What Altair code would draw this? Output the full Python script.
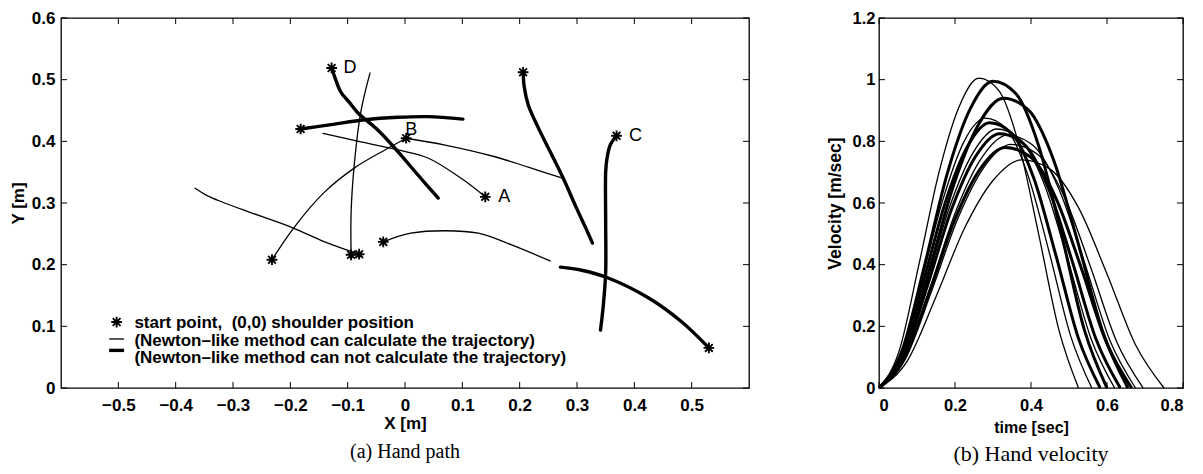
import altair as alt
import pandas as pd

SANS = "Liberation Sans"
SERIF = "Liberation Serif"

# ---------------- (a) Hand path : trajectories ----------------
# thick (Newton-like method can not calculate the trajectory)
d_x = [-0.128, -0.122, -0.112, -0.096, -0.082, -0.047, -0.012, 0.023, 0.058]
d_y = [0.519, 0.503, 0.480, 0.462, 0.446, 0.418, 0.383, 0.345, 0.308]
h_x = [-0.182, -0.129, -0.070, -0.012, 0.040, 0.101]
h_y = [0.420, 0.427, 0.435, 0.439, 0.440, 0.436]
s_x = [0.206, 0.208, 0.215, 0.233, 0.255, 0.276, 0.300, 0.315, 0.327]
s_y = [0.512, 0.488, 0.459, 0.421, 0.380, 0.340, 0.290, 0.260, 0.235]
c_x = [0.369, 0.358, 0.352, 0.350, 0.350, 0.350, 0.346, 0.341]
c_y = [0.409, 0.394, 0.370, 0.350, 0.269, 0.188, 0.135, 0.094]
r_x = [0.530, 0.483, 0.425, 0.350, 0.308, 0.271]
r_y = [0.065, 0.107, 0.146, 0.180, 0.191, 0.196]
# thin (Newton-like method can calculate the trajectory)
a_x = [0.140, 0.098, 0.040, -0.012, -0.077, -0.143]
a_y = [0.310, 0.340, 0.373, 0.386, 0.399, 0.413]
b_x = [0.002, 0.070, 0.157, 0.215, 0.276]
b_y = [0.405, 0.394, 0.375, 0.358, 0.340]
e_x = [-0.232, -0.193, -0.140, -0.088, -0.035, 0.002]
e_y = [0.208, 0.261, 0.318, 0.357, 0.386, 0.405]
f_x = [-0.094, -0.094, -0.088, -0.077, -0.061]
f_y = [0.216, 0.285, 0.367, 0.448, 0.511]
g_x = [-0.080, -0.140, -0.199, -0.274, -0.320, -0.345, -0.366]
g_y = [0.217, 0.237, 0.261, 0.286, 0.302, 0.312, 0.324]
k_x = [-0.038, 0.010, 0.070, 0.128, 0.186, 0.253]
k_y = [0.237, 0.251, 0.255, 0.251, 0.232, 0.206]

thick_paths = [(d_x, d_y), (h_x, h_y), (s_x, s_y), (c_x, c_y), (r_x, r_y)]
thin_paths = [(a_x, a_y), (b_x, b_y), (e_x, e_y), (f_x, f_y), (g_x, g_y), (k_x, k_y)]

# start points (asterisks)
star_x = [-0.128, -0.182, 0.206, 0.369, 0.530, 0.140, 0.002, -0.232, -0.094, -0.080, -0.038]
star_y = [0.519, 0.420, 0.512, 0.409, 0.065, 0.310, 0.405, 0.208, 0.216, 0.217, 0.237]

# point labels
lbl_text = ["D", "B", "A", "C"]
lbl_x = [-0.096, 0.011, 0.173, 0.402]
lbl_y = [0.519, 0.418, 0.310, 0.409]

# legend
legend_text = ["start point,\u00a0 (0,0) shoulder position",
               "(Newton\u2013like method can calculate the trajectory)",
               "(Newton\u2013like method can not calculate the trajectory)"]
legend_tx = [-0.472, -0.472, -0.472]
legend_ty = [0.106, 0.077, 0.048]
legend_star_x = [-0.503]
legend_star_y = [0.107]
legend_seg_x = [-0.516, -0.516]
legend_seg_x2 = [-0.490, -0.490]
legend_seg_y = [0.0795, 0.061]
legend_seg_w = [1.3, 3.4]

xticks_a = [-0.5, -0.4, -0.3, -0.2, -0.1, 0, 0.1, 0.2, 0.3, 0.4, 0.5]
yticks_a = [0, 0.1, 0.2, 0.3, 0.4, 0.5, 0.6]

# ---------------- (b) Hand velocity : curves ----------------
v_t1 = [0, .053, .105, .158, .21, .263, .315, .368, .42, .473, .525]
v_v1 = [0, .12, .40, .70, .91, 1.005, .965, .79, .50, .19, 0]
v_t2 = [0, .056, .112, .168, .224, .28, .336, .392, .448, .504, .56]
v_v2 = [0, .105, .35, .61, .80, .875, .84, .69, .44, .17, 0]
v_t3 = [0, .075, .15, .225, .30, .375, .45, .525, .60, .675, .75]
v_v3 = [0, .089, .296, .518, .673, .74, .71, .585, .37, .14, 0]
v_t4 = [0, .0695, .139, .2085, .278, .3475, .417, .4865, .556, .6255, .695]
v_v4 = [0, .095, .316, .553, .719, .79, .758, .624, .395, .15, 0]
v_t5 = [0, .0675, .135, .2025, .27, .3375, .405, .4725, .54, .6075, .675]
v_v5 = [0, .098, .328, .574, .746, .82, .787, .648, .41, .155, 0]
v_t6 = [0, .062, .124, .186, .248, .31, .372, .434, .496, .558, .62]
v_v6 = [0, .101, .336, .588, .764, .84, .806, .664, .42, .16, 0]
v_t7 = [0, .06, .12, .18, .24, .30, .36, .42, .48, .54, .60]
v_v7 = [0, .119, .398, .697, .905, .995, .955, .786, .50, .19, 0]
v_t8 = [0, .0655, .131, .1965, .262, .3275, .393, .4585, .524, .5895, .655]
v_v8 = [0, .113, .376, .658, .855, .94, .902, .743, .47, .18, 0]
v_t9 = [0, .0582, .1164, .1746, .2328, .291, .3492, .4074, .4656, .5238, .582]
v_v9 = [0, .103, .344, .602, .783, .86, .826, .68, .43, .165, 0]
v_t10 = [0, .0635, .127, .1905, .254, .3175, .381, .4445, .508, .5715, .635]
v_v10 = [0, .099, .33, .578, .751, .825, .792, .652, .413, .157, 0]
v_t11 = [0, .0665, .133, .1995, .266, .3325, .399, .4655, .532, .5985, .665]
v_v11 = [0, .094, .312, .546, .71, .78, .749, .616, .39, .148, 0]

vel_curves = [(v_t1, v_v1), (v_t2, v_v2), (v_t3, v_v3), (v_t4, v_v4), (v_t5, v_v5),
              (v_t6, v_v6), (v_t7, v_v7), (v_t8, v_v8), (v_t9, v_v9), (v_t10, v_v10),
              (v_t11, v_v11)]
vel_thick = [0, 0, 0, 0, 0, 0, 1, 1, 1, 1, 1]

xticks_b = [0, 0.2, 0.4, 0.6, 0.8]
yticks_b = [0, 0.2, 0.4, 0.6, 0.8, 1, 1.2]

THIN_A, THICK_A = 1.3, 3.4
THIN_B, THICK_B = 1.3, 3.0

# ---------------- build tables ----------------
rows = []
for i, (xs, ys) in enumerate(thick_paths):
    for j, (x, y) in enumerate(zip(xs, ys)):
        rows.append({"x": x, "y": y, "id": f"k{i}", "o": j, "w": THICK_A})
for i, (xs, ys) in enumerate(thin_paths):
    for j, (x, y) in enumerate(zip(xs, ys)):
        rows.append({"x": x, "y": y, "id": f"n{i}", "o": j, "w": THIN_A})
paths = pd.DataFrame(rows)
stars = pd.DataFrame({"x": star_x + legend_star_x, "y": star_y + legend_star_y})
labels = pd.DataFrame({"x": lbl_x, "y": lbl_y, "t": lbl_text})
leg = pd.DataFrame({"x": legend_tx, "y": legend_ty, "t": legend_text})
legseg = pd.DataFrame({"x": legend_seg_x, "x2": legend_seg_x2, "y": legend_seg_y, "w": legend_seg_w})
xt_a = pd.DataFrame({"x": xticks_a})
yt_a = pd.DataFrame({"y": yticks_a})

vrows = []
for i, (ts, vs) in enumerate(vel_curves):
    for t, v in zip(ts, vs):
        vrows.append({"x": t, "y": v, "id": f"c{i}", "w": THICK_B if vel_thick[i] else THIN_B})
vel = pd.DataFrame(vrows)
xt_b = pd.DataFrame({"x": xticks_b})
yt_b = pd.DataFrame({"y": yticks_b})

STAR = "M-1,0L1,0M0,-1L0,1M-0.72,-0.72L0.72,0.72M-0.72,0.72L0.72,-0.72"
TICK = 6


def axis(values, title, lsize, tsize, lpad, tpad):
    return alt.Axis(values=values, format="~g", ticks=False, domain=False, grid=False,
                    labelFont=SANS, labelFontSize=lsize, labelFontWeight="bold",
                    labelColor="black", labelPadding=lpad,
                    title=title, titleFont=SANS, titleFontSize=tsize,
                    titleFontWeight="bold", titleColor="black", titlePadding=tpad)


def tick_layers(xdf, ydf, X, Y, W, H):
    bx = alt.Chart(xdf).mark_rule(color="black", strokeWidth=1).encode(
        x=X, y=alt.value(H), y2=alt.value(H - TICK))
    tx = alt.Chart(xdf).mark_rule(color="black", strokeWidth=1).encode(
        x=X, y=alt.value(0), y2=alt.value(TICK))
    ly = alt.Chart(ydf).mark_rule(color="black", strokeWidth=1).encode(
        y=Y, x=alt.value(0), x2=alt.value(TICK))
    ry = alt.Chart(ydf).mark_rule(color="black", strokeWidth=1).encode(
        y=Y, x=alt.value(W), x2=alt.value(W - TICK))
    return [bx, tx, ly, ry]


# ---------------- panel (a) ----------------
W1, H1 = 688, 370
xsc1 = alt.Scale(domain=[-0.6, 0.6], nice=False, zero=False)
ysc1 = alt.Scale(domain=[0, 0.6], nice=False, zero=False)
XA = alt.X("x:Q", scale=xsc1, axis=axis(xticks_a, "X [m]", 17, 17, 9, 2))
YA = alt.Y("y:Q", scale=ysc1, axis=axis(yticks_a, "Y [m]", 17, 17, 6, 4))

lines_a = alt.Chart(paths).mark_line(color="black", interpolate="catmull-rom",
                                     strokeCap="round", strokeJoin="round").encode(
    x=XA, y=YA, detail="id:N", order="o:Q",
    strokeWidth=alt.StrokeWidth("w:Q", scale=None))

stars_a = alt.Chart(stars).mark_point(shape=STAR, filled=False, color="black",
                                      strokeWidth=1.9, size=115, opacity=1).encode(x=XA, y=YA)

labels_a = alt.Chart(labels).mark_text(font=SANS, fontSize=18, color="black",
                                       align="center", baseline="middle").encode(
    x=XA, y=YA, text="t:N")

leg_text = alt.Chart(leg).mark_text(font=SANS, fontSize=17, fontWeight="bold", color="black",
                                    align="left", baseline="middle").encode(
    x=XA, y=YA, text="t:N")

leg_seg = alt.Chart(legseg).mark_rule(color="black").encode(
    x=XA, x2="x2:Q", y=YA, strokeWidth=alt.StrokeWidth("w:Q", scale=None))

panel_a = alt.layer(lines_a, stars_a, labels_a, leg_text, leg_seg,
                    *tick_layers(xt_a, yt_a, XA, YA, W1, H1)).properties(
    width=W1, height=H1,
    title=alt.TitleParams("(a) Hand path", orient="bottom", font=SERIF, fontSize=20,
                          fontWeight="normal", color="black", offset=11))

# ---------------- panel (b) ----------------
W2, H2 = 304, 370
xsc2 = alt.Scale(domain=[0, 0.8], nice=False, zero=False)
ysc2 = alt.Scale(domain=[0, 1.2], nice=False, zero=False)
XB = alt.X("x:Q", scale=xsc2, axis=axis(xticks_b, "time [sec]", 16.5, 16, 9, 6))
YB = alt.Y("y:Q", scale=ysc2, axis=axis(yticks_b, "Velocity [m/sec]", 16.5, 17.5, 4, 8))

lines_b = alt.Chart(vel).mark_line(color="black", interpolate="monotone").encode(
    x=XB, y=YB, detail="id:N", order="x:Q",
    strokeWidth=alt.StrokeWidth("w:Q", scale=None))

panel_b = alt.layer(lines_b, *tick_layers(xt_b, yt_b, XB, YB, W2, H2)).properties(
    width=W2, height=H2,
    title=alt.TitleParams("(b) Hand velocity", orient="bottom", font=SERIF, fontSize=22,
                          fontWeight="normal", color="black", offset=8))

chart = alt.hconcat(panel_a, panel_b, spacing=74).properties(
    padding=0, background="white"
).configure_view(stroke="black", strokeWidth=1.3)

chart.save("out.html", embed_options={"renderer": "svg", "actions": False})
